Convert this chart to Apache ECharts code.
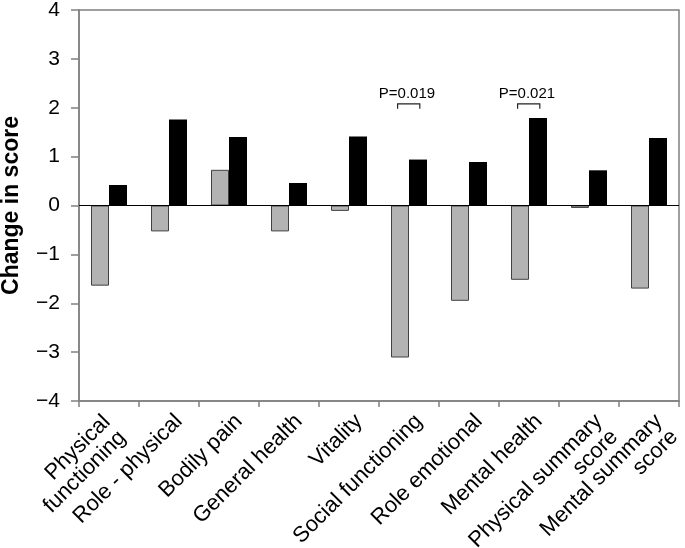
<!DOCTYPE html>
<html>
<head>
<meta charset="utf-8">
<script src="https://cdn.jsdelivr.net/npm/echarts@6/dist/echarts.min.js"></script>
<style>
html,body{margin:0;padding:0;background:#fff;}
#c{width:685px;height:548px;}
</style>
</head>
<body>
<div id="c"></div>
<script>
var categories = ['Physical\nfunctioning', 'Role - physical', 'Bodily pain', 'General health', 'Vitality',
  'Social functioning', 'Role emotional', 'Mental health', 'Physical summary\nscore', 'Mental summary\nscore'];
var grayValues = [-1.64, -0.53, 0.73, -0.53, -0.11, -3.11, -1.95, -1.52, -0.05, -1.70];
var blackValues = [0.42, 1.76, 1.40, 0.46, 1.41, 0.94, 0.89, 1.79, 0.72, 1.38];
var yTicks = [-4, -3, -2, -1, 0, 1, 2, 3, 4];
var pIndex = [5, 7];
var pLabels = ['P=0.019', 'P=0.021'];
var pLevel = [2.08, 2.08];

var FONT = '"Liberation Sans", Arial, sans-serif';
var chart = echarts.init(document.getElementById('c'), null, {renderer: 'canvas'});

var pData = pIndex.map(function (c, i) { return [c, pLevel[i], i]; });
// the first label is nudged left (kept inside the page, as in the original)
var catData = categories.map(function (c, i) {
  return i === 0 ? {value: c, textStyle: {align: 'right', verticalAlign: 'top', padding: [0, 14, 0, 0]}} : c;
});

chart.setOption({
  animation: false,
  backgroundColor: '#fff',
  textStyle: {fontFamily: FONT},
  grid: {left: 79, right: 6, top: 10, bottom: 147, containLabel: false, outerBoundsMode: 'none',
    show: true, borderColor: '#808080', borderWidth: 1.5, backgroundColor: 'transparent'},
  xAxis: {
    type: 'category',
    data: catData,
    axisLine: {onZero: false, lineStyle: {color: '#808080', width: 1.5}},
    axisTick: {show: true, length: 6, alignWithLabel: false, lineStyle: {color: '#808080', width: 1.5}},
    axisLabel: {
      interval: 0, rotate: 45, margin: 0, color: '#000', fontSize: 22, fontFamily: FONT,
      align: 'right', verticalAlign: 'top', padding: [8, 5, 0, 0], lineHeight: 22
    },
    splitLine: {show: false}
  },
  yAxis: {
    type: 'value',
    min: yTicks[0], max: yTicks[yTicks.length - 1], interval: 1,
    name: 'Change in score',
    nameLocation: 'middle',
    nameGap: 56,
    nameTextStyle: {fontSize: 23, fontWeight: 'bold', color: '#000', fontFamily: FONT},
    axisLine: {show: true, lineStyle: {color: '#808080', width: 1.5}},
    axisTick: {show: true, length: 8, lineStyle: {color: '#808080', width: 1.5}},
    axisLabel: {
      margin: 19, color: '#000', fontSize: 21, fontFamily: FONT,
      formatter: function (v) { return v < 0 ? '\u2212' + Math.abs(v) : String(v); }
    },
    splitLine: {show: false}
  },
  series: [
    {
      name: 'Series 1', type: 'bar', data: grayValues,
      barWidth: '30%', barGap: '0%',
      itemStyle: {color: '#b3b3b3', borderColor: '#404040', borderWidth: 1},
      markLine: {
        silent: true, symbol: 'none', label: {show: false},
        lineStyle: {color: '#000', width: 1, type: 'solid'},
        data: [{yAxis: 0}]
      },
      z: 2
    },
    {
      name: 'Series 2', type: 'bar', data: blackValues,
      barWidth: '30%', barGap: '0%',
      itemStyle: {color: '#000'},
      z: 2
    },
    {
      type: 'custom',
      data: pData,
      encode: {x: 0, y: 1},
      z: 5,
      renderItem: function (params, api) {
        var c = api.value(0), v = api.value(1), i = api.value(2);
        var p = api.coord([c, v]);
        var band = api.size([1, 0])[0];
        var l = p[0] - band * 0.19, r = p[0] + band * 0.18;
        return {
          type: 'group',
          children: [
            {type: 'polyline', shape: {points: [[l, p[1] + 5], [l, p[1]], [r, p[1]], [r, p[1] + 5]]},
             style: {stroke: '#222', lineWidth: 1.2, fill: null}},
            {type: 'text', x: p[0] - 2, y: p[1] - 2,
             style: {text: pLabels[i], fill: '#000', font: '15px ' + FONT, align: 'center', verticalAlign: 'bottom'}}
          ]
        };
      }
    }
  ]
});
</script>
</body>
</html>
